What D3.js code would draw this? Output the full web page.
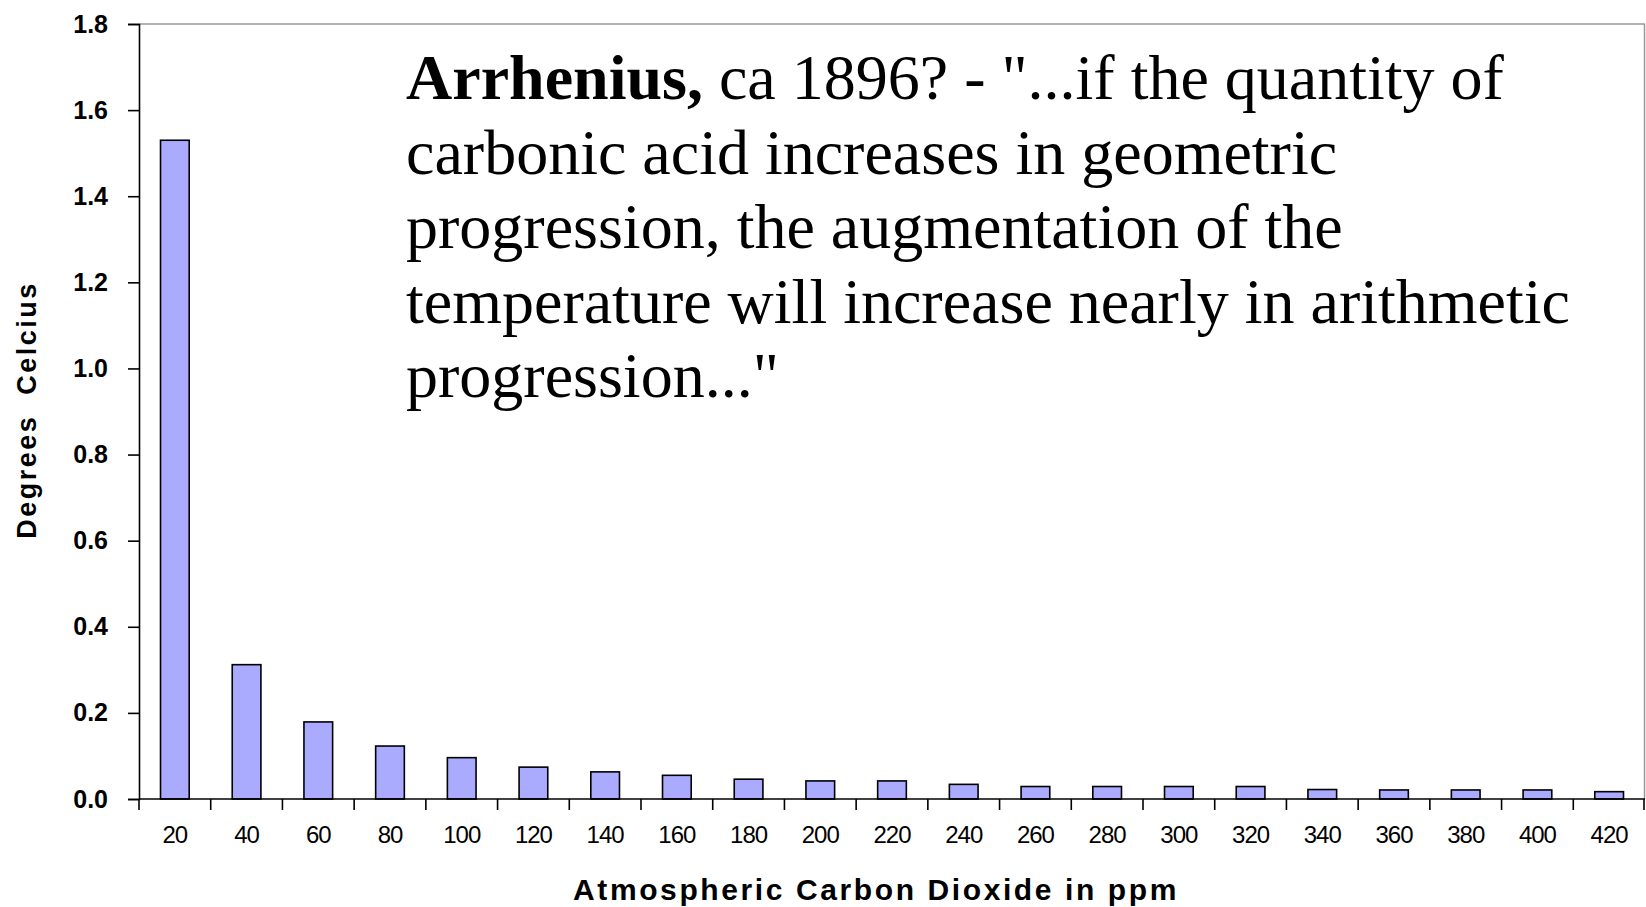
<!DOCTYPE html>
<html>
<head>
<meta charset="utf-8">
<script src="https://cdn.jsdelivr.net/npm/d3@7"></script>
<style>
  body { margin: 0; background: #fff; }
  svg { display: block; }
</style>
</head>
<body>
<svg width="1646" height="907"></svg>
<script>
// CO2 levels (ppm) on the x axis
var categories = ['20','40','60','80','100','120','140','160','180','200','220',
                  '240','260','280','300','320','340','360','380','400','420'];

// temperature increase per step, degrees C
var values = [1.53, 0.312, 0.179, 0.123, 0.096, 0.074, 0.063, 0.055, 0.046, 0.042, 0.042,
              0.034, 0.029, 0.029, 0.029, 0.029, 0.022, 0.021, 0.021, 0.021, 0.017];

var yTicks = [0, 0.2, 0.4, 0.6, 0.8, 1.0, 1.2, 1.4, 1.6, 1.8];

// quote lines
var quoteLines = [
  'ca 1896? - "...if the quantity of',
  'carbonic acid increases in geometric',
  'progression, the augmentation of the',
  'temperature will increase nearly in arithmetic',
  'progression..."'
];

var svg = d3.select('svg');
// plot box edges
var plotLeft = 139, plotRight = 1645, plotTop = 24, plotBottom = 799;

var x = d3.scaleBand()
  .domain(categories)
  .range([plotLeft, plotRight])
  .paddingInner(0.6)
  .paddingOuter(0.3);

var y = d3.scaleLinear()
  .domain([0, 1.8])
  .range([plotBottom, plotTop]);

// frame: grey top and right edges
svg.append('line')
  .attr('x1', plotLeft).attr('x2', plotRight)
  .attr('y1', plotTop).attr('y2', plotTop)
  .attr('stroke', '#999').attr('stroke-width', 1.5);
svg.append('line')
  .attr('x1', plotRight - 0.5).attr('x2', plotRight - 0.5)
  .attr('y1', plotTop).attr('y2', plotBottom)
  .attr('stroke', '#999').attr('stroke-width', 1.5);

// bars
svg.selectAll('rect.bar').data(values)
  .enter().append('rect')
    .attr('class', 'bar')
    .attr('x', (d, i) => x(categories[i]))
    .attr('y', d => y(d))
    .attr('width', x.bandwidth())
    .attr('height', d => plotBottom - y(d))
    .attr('fill', '#aaaaff')
    .attr('stroke', '#000')
    .attr('stroke-width', 1.6);

// y axis
var yAxis = d3.axisLeft(y)
  .tickValues(yTicks)
  .tickFormat(d3.format('.1f'))
  .tickSize(11)
  .tickPadding(20);

svg.append('g')
  .attr('transform', 'translate(' + plotLeft + ',0)')
  .call(yAxis)
  .call(g => g.select('.domain').attr('stroke-width', 1.6))
  .call(g => g.selectAll('.tick line').attr('stroke-width', 1.6))
  .call(g => g.selectAll('.tick text')
    .attr('font-family', 'Liberation Sans, Arial, sans-serif')
    .attr('font-weight', 'bold')
    .attr('font-size', 25)
    .attr('fill', '#000'));

// x axis: ticks fall between the bars
var step = x.step();
var boundaries = d3.range(categories.length + 1).map(i => plotLeft + i * step);

svg.append('line')
  .attr('x1', plotLeft).attr('x2', plotRight)
  .attr('y1', plotBottom).attr('y2', plotBottom)
  .attr('stroke', '#000').attr('stroke-width', 1.6);

svg.selectAll('line.xtick').data(boundaries)
  .enter().append('line')
    .attr('class', 'xtick')
    .attr('x1', d => Math.min(d, plotRight - 1)).attr('x2', d => Math.min(d, plotRight - 1))
    .attr('y1', plotBottom).attr('y2', plotBottom + 11)
    .attr('stroke', '#000').attr('stroke-width', 1.6);

svg.selectAll('text.xlab').data(categories)
  .enter().append('text')
    .attr('class', 'xlab')
    .attr('x', d => x(d) + x.bandwidth() / 2)
    .attr('y', 843)
    .attr('text-anchor', 'middle')
    .attr('font-family', 'Liberation Sans, Arial, sans-serif')
    .attr('font-size', 24)
    .attr('letter-spacing', -1)
    .text(d => d);

// axis titles
svg.append('text')
  .attr('x', 876)
  .attr('y', 900)
  .attr('text-anchor', 'middle')
  .attr('font-family', 'Liberation Sans, Arial, sans-serif')
  .attr('font-weight', 'bold')
  .attr('font-size', 30)
  .attr('letter-spacing', 2.6)
  .text('Atmospheric Carbon Dioxide in ppm');

svg.append('text')
  .attr('transform', 'translate(36,410) rotate(-90)')
  .attr('text-anchor', 'middle')
  .attr('font-family', 'Liberation Sans, Arial, sans-serif')
  .attr('font-weight', 'bold')
  .attr('font-size', 27)
  .attr('letter-spacing', 2.5)
  .style('white-space', 'pre')
  .text('Degrees  Celcius');

// quote
var quote = svg.append('text')
  .attr('font-family', 'Liberation Serif, Times New Roman, serif')
  .attr('font-size', 64)
  .attr('fill', '#000');

quoteLines.forEach(function(line, i) {
  var t = quote.append('tspan')
    .attr('x', 406)
    .attr('y', 99 + i * 74.5);
  if (i == 0) {
    t.append('tspan').attr('font-weight', 'bold').text('Arrhenius,');
    t.append('tspan').text(' ' + line);
  } else {
    t.text(line);
  }
});
</script>
</body>
</html>
